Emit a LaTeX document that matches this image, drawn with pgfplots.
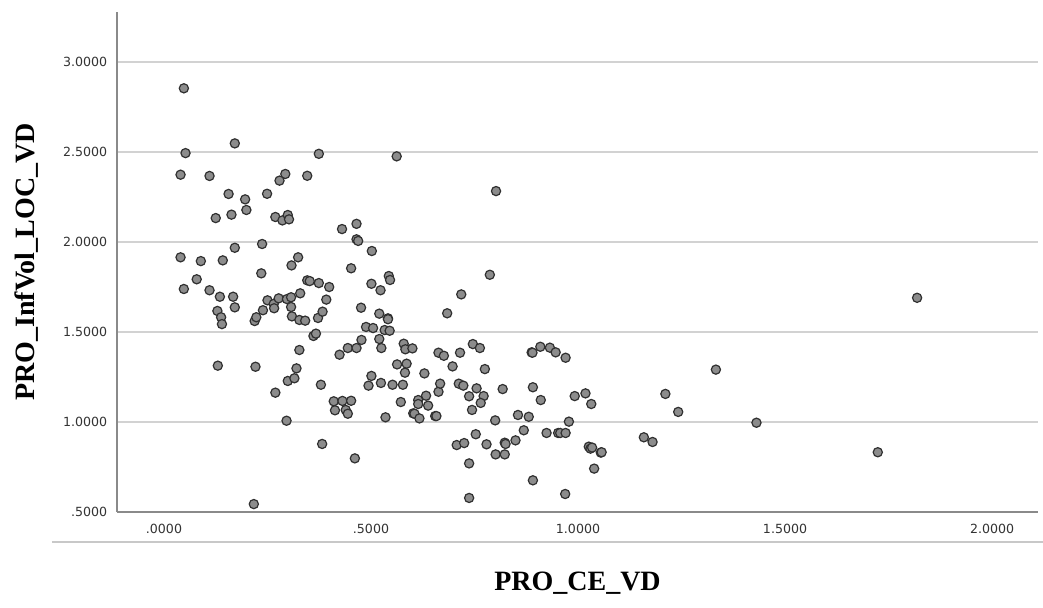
\documentclass[border=0pt]{standalone}
\usepackage{pgfplots}
\usepackage{pgfplotstable}
\pgfplotsset{compat=1.18}
\usepackage{fontspec}
\setmainfont{Liberation Serif}
\newfontfamily\tickfont{DejaVu Sans}
\definecolor{ptfill}{HTML}{8C8C8C}
\definecolor{ptedge}{HTML}{303030}
\definecolor{gridgray}{HTML}{D2D2D2}
\definecolor{axisgray}{HTML}{8A8A8A}
\definecolor{framegray}{HTML}{C8C8C8}
\definecolor{ticktext}{HTML}{333333}
\pgfplotstableread{
x y
0.048 2.854
0.171 2.548
0.052 2.494
0.374 2.490
0.562 2.476
0.040 2.374
0.110 2.367
0.293 2.378
0.279 2.341
0.346 2.368
0.156 2.267
0.196 2.237
0.249 2.268
0.199 2.178
0.125 2.133
0.163 2.152
0.269 2.139
0.286 2.120
0.299 2.150
0.302 2.126
0.430 2.072
0.465 2.101
0.465 2.015
0.469 2.006
0.502 1.950
0.237 1.989
0.171 1.968
0.040 1.915
0.089 1.894
0.142 1.898
0.324 1.915
0.308 1.870
0.235 1.826
0.452 1.854
0.079 1.793
0.048 1.739
0.110 1.732
0.135 1.696
0.167 1.696
0.346 1.787
0.352 1.783
0.374 1.772
0.399 1.750
0.501 1.768
0.523 1.732
0.543 1.811
0.546 1.789
0.329 1.715
0.392 1.680
0.129 1.617
0.138 1.582
0.140 1.544
0.171 1.637
0.219 1.561
0.223 1.582
0.239 1.621
0.250 1.676
0.265 1.656
0.266 1.632
0.277 1.687
0.297 1.683
0.307 1.693
0.307 1.639
0.309 1.587
0.327 1.567
0.341 1.563
0.372 1.578
0.383 1.613
0.361 1.478
0.367 1.491
0.327 1.400
0.320 1.298
0.299 1.228
0.315 1.243
0.269 1.163
0.296 1.007
0.382 0.878
0.461 0.798
0.130 1.313
0.221 1.307
0.379 1.207
0.424 1.374
0.444 1.411
0.465 1.411
0.477 1.456
0.476 1.635
0.488 1.528
0.505 1.522
0.520 1.602
0.541 1.576
0.541 1.571
0.533 1.511
0.545 1.507
0.520 1.461
0.525 1.411
0.579 1.435
0.583 1.404
0.600 1.409
0.563 1.320
0.586 1.324
0.582 1.274
0.501 1.256
0.494 1.202
0.524 1.217
0.552 1.207
0.577 1.207
0.410 1.115
0.431 1.117
0.452 1.118
0.413 1.065
0.439 1.067
0.444 1.046
0.535 1.026
0.572 1.111
0.602 1.048
0.605 1.046
0.614 1.122
0.614 1.100
0.617 1.020
0.633 1.146
0.638 1.091
0.629 1.270
0.655 1.033
0.658 1.033
0.663 1.168
0.667 1.213
0.663 1.385
0.676 1.368
0.697 1.309
0.715 1.385
0.684 1.604
0.718 1.709
0.787 1.818
0.712 1.213
0.723 1.202
0.737 1.143
0.755 1.187
0.772 1.144
0.765 1.106
0.744 1.067
0.746 1.433
0.763 1.411
0.775 1.294
0.818 1.183
0.800 1.009
0.707 0.872
0.725 0.883
0.753 0.932
0.737 0.770
0.779 0.876
0.801 0.820
0.823 0.820
0.823 0.885
0.825 0.878
0.849 0.898
0.869 0.954
0.855 1.039
0.881 1.029
0.891 1.193
0.910 1.122
0.888 1.387
0.890 1.385
0.909 1.418
0.932 1.413
0.946 1.387
0.970 1.357
0.924 0.939
0.952 0.939
0.957 0.939
0.970 0.939
0.978 1.002
0.992 1.144
1.018 1.159
1.032 1.100
1.026 0.863
1.030 0.852
1.034 0.858
1.055 0.830
1.057 0.832
1.039 0.741
0.891 0.676
1.159 0.915
1.180 0.889
0.737 0.578
0.969 0.600
0.217 0.544
1.333 1.291
1.211 1.156
1.242 1.056
1.431 0.996
1.724 0.832
1.819 1.690
0.802 2.283
}\scatterdata
\begin{document}
\begin{tikzpicture}[x=1pt,y=1pt]
\useasboundingbox (-58.5,-48) rectangle (463,256);
\draw[color=framegray, line width=0.6pt] (-32.5,-15) -- (463,-15);
\begin{axis}[
  at={(0,0)}, anchor=south west,
  scale only axis, width=460.5pt, height=250pt,
  xmin=-0.1135, xmax=2.111, ymin=0.5, ymax=3.278,
  axis lines=left,
  axis line style={-, draw=axisgray, line width=0.7pt},
  xtick={0,0.5,1,1.5,2},
  xticklabels={.0000,.5000,1.0000,1.5000,2.0000},
  ytick={0.5,1,1.5,2,2.5,3},
  yticklabels={.5000,1.0000,1.5000,2.0000,2.5000,3.0000},
  major tick length=0pt,
  ymajorgrids,
  grid style={draw=gridgray, line width=0.7pt},
  tick label style={font=\tickfont\fontsize{6.3}{7}\selectfont, text=ticktext},
  xticklabel style={yshift=-2.5pt},
  yticklabel style={xshift=-1.4pt},
  xlabel={\bfseries PRO\_CE\_VD},
  ylabel={\bfseries PRO\_InfVol\_LOC\_VD},
  label style={font=\fontsize{14}{16}\selectfont},
  xlabel style={at={(axis description cs:0.5,-0.142)}, anchor=center},
  ylabel style={at={(axis description cs:-0.0977,0.5)}, anchor=center},
  clip=false,
]
\addplot[only marks, mark=*, mark size=2.3pt,
  mark options={fill=ptfill, draw=ptedge, line width=0.6pt}]
  table[x=x, y=y] {\scatterdata};
\end{axis}
\end{tikzpicture}
\end{document}
